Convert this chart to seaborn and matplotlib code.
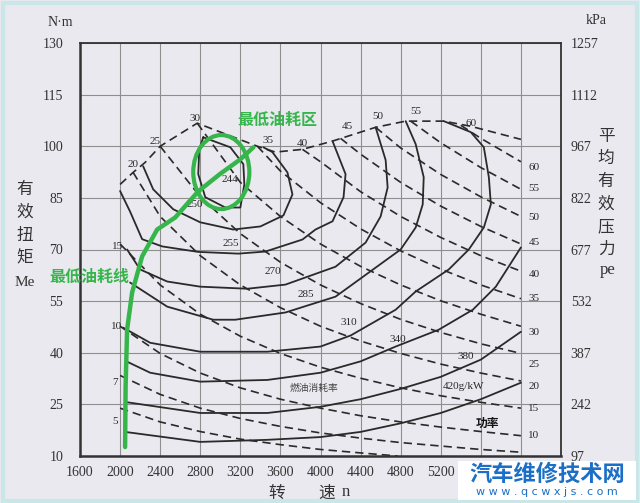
import numpy as np
import pandas as pd
import seaborn as sns
import matplotlib.pyplot as plt
from matplotlib.patches import Ellipse, Rectangle

# ---- axes ----
speed_ticks = [1600, 2000, 2400, 2800, 3200, 3600, 4000, 4400, 4800, 5200, 5600, 6000, 6400]
# last three labels sit under the site watermark in the scan
speed_labels = ["1600", "2000", "2400", "2800", "3200", "3600", "4000", "4400", "4800", "5200", "", "", ""]
torque_ticks = [10, 25, 40, 55, 70, 85, 100, 115, 130]
pe_ticks = [97, 242, 387, 532, 677, 822, 967, 1112, 1257]

# ---- full load line (dashed envelope), speed r/min / torque N·m ----
full_n = [2000, 2130, 2250, 2400, 2720, 2770, 3370, 3550, 3820, 4120, 4550, 4850, 5230, 5500, 6000]
full_m = [88.9, 92.4, 95.3, 100.0, 105.8, 106.7, 100.0, 98.3, 99.1, 101.5, 105.5, 107.3, 107.3, 105.8, 102.0]

# ---- fuel consumption contours g/kWh ----
n244 = [2830, 3100, 3230, 3240, 3200, 3050, 2850, 2780, 2790, 2830]
m244 = [102.6, 99.7, 94.8, 88.9, 82.2, 82.2, 85.2, 91.9, 99.1, 102.6]
n250 = [2230, 2330, 2530, 2800, 3130, 3400, 3630, 3720, 3670, 3520, 3430]
m250 = [94.2, 87.5, 81.7, 77.9, 75.8, 76.7, 79.9, 86.0, 92.4, 98.3, 99.7]
n255 = [2000, 2100, 2220, 2420, 2780, 3180, 3450, 3820, 3950, 4120, 4230, 4250, 4120]
m255 = [87.0, 81.0, 73.0, 70.9, 69.3, 68.8, 69.4, 72.9, 75.8, 78.2, 85.2, 91.9, 101.5]
n270 = [2070, 2200, 2470, 2800, 3270, 3650, 4150, 4450, 4600, 4670, 4650, 4550]
m270 = [70.0, 64.2, 60.7, 59.2, 58.6, 59.8, 65.0, 72.0, 79.6, 88.0, 96.0, 105.5]
n285 = [2100, 2470, 2930, 3150, 3650, 4150, 4800, 4950, 5020, 5030, 4950, 4850]
m285 = [60.4, 53.4, 49.6, 49.6, 51.7, 56.3, 70.0, 76.4, 83.1, 91.0, 100.6, 107.3]
n310 = [2030, 2300, 2800, 3470, 4000, 4300, 4750, 4950, 5280, 5480, 5630, 5700, 5680, 5630, 5500, 5230]
m310 = [47.3, 42.9, 40.3, 40.3, 41.8, 45.0, 52.5, 57.8, 64.2, 70.0, 76.4, 83.1, 91.0, 99.7, 104.1, 107.3]
n340 = [2070, 2300, 2800, 3470, 4000, 4400, 4750, 5180, 5520, 5750, 6000]
m340 = [37.4, 34.2, 31.6, 32.1, 34.2, 37.5, 41.8, 46.7, 52.5, 59.2, 70.6]
n380 = [2050, 2800, 3470, 4000, 4400, 4800, 5200, 5600, 6000]
m380 = [25.7, 22.5, 22.5, 24.3, 26.5, 29.5, 33.0, 38.0, 46.1]
n420 = [2050, 2800, 3470, 4000, 4400, 4800, 5200, 5600, 6000]
m420 = [17.0, 14.1, 14.7, 15.5, 17.0, 19.5, 22.5, 26.5, 31.3]

# ---- power lines kW (dashed) ----
p5_n = [2000, 2400, 2800, 3200, 3600, 4000, 4400, 4770]
p5_m = [23.9, 19.9, 17.1, 14.9, 13.3, 11.9, 10.9, 10.0]
p7_n = [2000, 2400, 2800, 3200, 3600, 4000, 4400, 4800, 5200, 5600, 6000]
p7_m = [33.4, 27.9, 23.9, 20.9, 18.6, 16.7, 15.2, 13.9, 12.9, 11.9, 11.1]
p10_n = [2000, 2400, 2800, 3200, 3600, 4000, 4400, 4800, 5200, 5600, 6000]
p10_m = [47.7, 39.8, 34.1, 29.8, 26.5, 23.9, 21.7, 19.9, 18.4, 17.1, 15.9]
p15_n = [2000, 2400, 2800, 3200, 3600, 4000, 4400, 4800, 5200, 5600, 6000]
p15_m = [71.6, 59.7, 51.2, 44.8, 39.8, 35.8, 32.6, 29.8, 27.5, 25.6, 23.9]
p20_n = [2130, 2400, 2800, 3200, 3600, 4000, 4400, 4800, 5200, 5600, 6000]
p20_m = [92.4, 79.6, 68.2, 59.7, 53.1, 47.7, 43.4, 39.8, 36.7, 34.1, 31.8]
p25_n = [2400, 2800, 3200, 3600, 4000, 4400, 4800, 5200, 5600, 6000]
p25_m = [100.0, 85.3, 74.6, 66.3, 59.7, 54.3, 49.7, 45.9, 42.6, 39.8]
p30_n = [2770, 3200, 3600, 4000, 4400, 4800, 5200, 5600, 6000]
p30_m = [106.7, 89.5, 79.6, 71.6, 65.1, 59.7, 55.1, 51.2, 47.7]
p35_n = [3370, 3600, 4000, 4400, 4800, 5200, 5600, 6000]
p35_m = [100.0, 92.8, 83.6, 76.0, 69.6, 64.3, 59.7, 55.7]
p40_n = [3820, 4000, 4400, 4800, 5200, 5600, 6000]
p40_m = [99.1, 95.5, 86.8, 79.6, 73.5, 68.2, 63.7]
p45_n = [4200, 4400, 4800, 5200, 5600, 6000]
p45_m = [102.3, 97.7, 89.5, 82.6, 76.7, 71.6]
p50_n = [4550, 4800, 5200, 5600, 6000]
p50_m = [105.5, 99.5, 91.8, 85.3, 79.6]
p55_n = [4900, 5200, 5600, 6000]
p55_m = [107.3, 101.0, 93.8, 87.5]
p60_n = [5400, 5600, 6000]
p60_m = [106.1, 102.3, 95.5]

# ---- minimum consumption line ----
green_n = [2050, 2055, 2070, 2120, 2220, 2370, 2550, 2780, 3000, 3200, 3330]
green_m = [12.6, 30.0, 46.7, 57.5, 68.0, 75.8, 79.3, 86.9, 92.0, 96.2, 99.7]

bsfc = [(n244, m244), (n250, m250), (n255, m255), (n270, m270), (n285, m285),
        (n310, m310), (n340, m340), (n380, m380), (n420, m420)]
power = [(p5_n, p5_m), (p7_n, p7_m), (p10_n, p10_m), (p15_n, p15_m), (p20_n, p20_m),
         (p25_n, p25_m), (p30_n, p30_m), (p35_n, p35_m), (p40_n, p40_m), (p45_n, p45_m),
         (p50_n, p50_m), (p55_n, p55_m), (p60_n, p60_m)]


def main():
    sns.set_theme(style="whitegrid")
    plt.rcParams['font.family'] = ['Liberation Serif', 'Noto Sans CJK SC', 'DejaVu Sans']
    bg = "#e9e9ef"
    ink = "#2a2a2a"
    green = "#36b64a"
    cjk = ['Noto Sans CJK SC', 'DejaVu Sans']

    fig = plt.figure(figsize=(6.4, 5.03), dpi=100, facecolor=bg)
    ax = fig.add_axes([80 / 640, 47 / 503, 481 / 640, 413 / 503])
    ax.set_facecolor(bg)

    # power lines + full load
    dash = (0, (5, 3))
    for n, m in power:
        sns.lineplot(x=n, y=m, sort=False, estimator=None, color=ink, lw=1.2,
                     linestyle=dash, ax=ax)
    sns.lineplot(x=full_n, y=full_m, sort=False, estimator=None, color=ink, lw=1.2,
                 linestyle=dash, ax=ax)
    # consumption contours
    for n, m in bsfc:
        sns.lineplot(x=n, y=m, sort=False, estimator=None, color=ink, lw=1.3, ax=ax)

    # green annotations
    sns.lineplot(x=green_n, y=green_m, sort=False, estimator=None, color=green, lw=3.2,
                 ax=ax, zorder=5)
    ax.add_patch(Ellipse((3010, 92.5), 560, 21.5, fill=False, edgecolor=green, lw=3.0, zorder=5))
    ax.text(3570, 107.6, "最低油耗区", color=green, fontsize=11.5, fontweight="bold",
            family=cjk, ha="center", va="center")
    ax.text(1690, 62.0, "最低油耗线", color=green, fontsize=11.5, fontweight="bold",
            family=cjk, ha="center", va="center", clip_on=False, zorder=6)

    # power labels (left/top)
    lab = dict(fontsize=8, color=ink, ha="center", va="center")
    for t, x, y in [("5", 1950, 19.9), ("7", 1950, 31.3), ("10", 1960, 47.5), ("15", 1970, 70.9),
                    ("20", 2130, 94.8), ("25", 2350, 101.3), ("30", 2750, 108.0),
                    ("35", 3480, 101.6), ("40", 3820, 100.7), ("45", 4270, 105.8),
                    ("50", 4570, 108.6), ("55", 4950, 110.1), ("60", 5500, 106.5)]:
        ax.text(x, y, t, **lab)
    for t, y in [("60", 93.9), ("55", 87.8), ("50", 79.3), ("45", 72.0), ("40", 62.7),
                 ("35", 55.7), ("30", 45.8), ("25", 36.5), ("20", 30.1), ("15", 23.7), ("10", 16.1)]:
        ax.text(6130, y, t, **lab)
    # consumption labels
    for t, x, y in [("244", 3100, 90.4), ("250", 2750, 83.1), ("255", 3100, 71.6),
                    ("270", 3520, 63.6), ("285", 3850, 56.9), ("310", 4280, 48.7),
                    ("340", 4770, 43.8), ("380", 5450, 38.8), ("420g/kW", 5430, 30.1)]:
        ax.text(x, y, t, **lab)
    ax.text(3930, 29.8, "燃油消耗率", fontsize=7, color="#444", family=cjk, ha="center", va="center")
    ax.text(5670, 19.6, "功率", fontsize=8.5, color="#111", family=cjk, fontweight="bold",
            ha="center", va="center")

    ax.set_xlim(1600, 6400)
    ax.set_ylim(10, 130)
    ax.set_xticks(speed_ticks)
    ax.set_xticklabels(speed_labels)
    ax.set_yticks(torque_ticks)
    ax.grid(True, color="#8e8e8e", lw=0.8)
    ax.tick_params(axis="both", length=0, labelsize=10, colors="#333")
    ax.tick_params(axis="y", pad=12)
    ax.tick_params(axis="x", pad=7)
    for s in ax.spines.values():
        s.set_edgecolor("#333")
        s.set_linewidth(1.3)
    ax.spines["left"].set_linewidth(1.8)
    ax.spines["bottom"].set_linewidth(1.8)
    ax.set_xlabel("")
    ax.set_ylabel("")

    ax2 = ax.twinx()
    ax2.set_ylim(97, 1257)
    ax2.set_yticks(pe_ticks)
    ax2.grid(False)
    ax2.tick_params(axis="y", length=0, labelsize=10, colors="#333", pad=7)
    for s in ax2.spines.values():
        s.set_visible(False)

    # axis titles
    fig.text(60 / 640, 1 - 22 / 503, "N·m", fontsize=10, color="#333", ha="center", va="center")
    fig.text(596 / 640, 1 - 20 / 503, "kPa", fontsize=10, color="#333", ha="center", va="center")
    for i, ch in enumerate("有效扭矩"):
        fig.text(25 / 640, 1 - (190 + 22.5 * i) / 503, ch, fontsize=12, color="#333",
                 family=cjk, ha="center", va="center")
    fig.text(25 / 640, 1 - 283 / 503, "Me", fontsize=11, color="#333", ha="center", va="center")
    for i, ch in enumerate("平均有效压力"):
        fig.text(606 / 640, 1 - (136 + 22.6 * i) / 503, ch, fontsize=12, color="#333",
                 family=cjk, ha="center", va="center")
    fig.text(608 / 640, 1 - 270 / 503, "pe", fontsize=12, color="#333", ha="center", va="center")
    fig.text(277 / 640, 1 - 493 / 503, "转", fontsize=12, color="#333", family=cjk,
             ha="center", va="center")
    fig.text(327 / 640, 1 - 493 / 503, "速", fontsize=12, color="#333", family=cjk,
             ha="center", va="center")
    fig.text(346 / 640, 1 - 492 / 503, "n", fontsize=12, color="#333", ha="center", va="center")

    # frame and watermark
    fig.add_artist(Rectangle((0.004, 0.004), 0.992, 0.99, transform=fig.transFigure,
                             fill=False, edgecolor="#c9e6e8", lw=3, zorder=9))
    fig.add_artist(Rectangle((458 / 640, 3 / 503), 178 / 640, 39 / 503, transform=fig.transFigure,
                             facecolor="white", edgecolor="none", zorder=10))
    fig.text(547 / 640, 1 - 474 / 503, "汽车维修技术网", fontsize=16, color="#1b6fc6",
             fontweight="bold", family=cjk, ha="center", va="center", zorder=11)
    fig.text(547 / 640, 1 - 492 / 503, "w w w . q c w x j s . c o m", fontsize=8,
             color="#1b6fc6", family=["DejaVu Sans"], ha="center", va="center", zorder=11)

    fig.savefig("out.png", dpi=100, facecolor=bg)
    plt.close()


if __name__ == '__main__':
    main()
